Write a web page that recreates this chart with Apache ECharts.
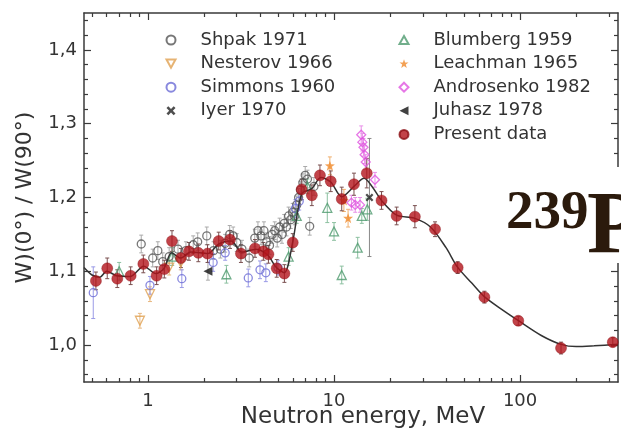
<!DOCTYPE html>
<html><head><meta charset="utf-8">
<script src="https://cdn.jsdelivr.net/npm/echarts@6/dist/echarts.min.js"></script>
<style>html,body{margin:0;padding:0;background:#fff}#c{width:621px;height:431px}</style>
</head><body><div id="c"></div>
<script>
// ---- tick labels ----
const xMajorTicks = [1, 10, 100];
const xMinorTicks = [0.5,0.6,0.7,0.8,0.9,2,3,4,5,6,7,8,9,20,30,40,50,60,70,80,90,200,300];
const yMajorTicks = [1.0, 1.1, 1.2, 1.3, 1.4];
const yMinorTicks = [0.96,0.98,1.02,1.04,1.06,1.08,1.12,1.14,1.16,1.18,1.22,1.24,1.26,1.28,1.32,1.34,1.36,1.38,1.42,1.44];
const xMin = 0.453, xMax = 336, yMin = 0.95, yMax = 1.45;

// ---- data ----
const presentE = [0.525,0.604,0.684,0.807,0.944,1.113,1.224,1.346,1.504,1.66,1.865,2.09,2.40,2.76,3.16,3.76,4.17,4.44,4.92,5.41,6.0,6.7,7.6,8.4,9.6,11.0,12.8,15.0,18.0,21.7,27.2,34.9,46.2,64.3,97.8,166,315];
const presentW = [1.087,1.104,1.090,1.094,1.110,1.094,1.103,1.141,1.118,1.127,1.125,1.124,1.141,1.143,1.124,1.131,1.127,1.123,1.104,1.097,1.139,1.211,1.203,1.230,1.222,1.198,1.218,1.233,1.196,1.175,1.174,1.157,1.105,1.065,1.033,0.996,1.004];
const presentErr = [0.012,0.014,0.012,0.012,0.012,0.012,0.012,0.014,0.013,0.012,0.012,0.012,0.012,0.012,0.012,0.012,0.012,0.012,0.012,0.012,0.012,0.014,0.014,0.014,0.014,0.016,0.015,0.02,0.012,0.012,0.015,0.01,0.008,0.008,0.006,0.008,0.006];

const fitE = [0.453,0.5,0.55,0.6,0.68,0.8,0.95,1.1,1.22,1.34,1.5,1.7,2.1,2.4,2.8,3.2,3.8,4.4,4.9,5.4,6.0,6.7,7.6,8.5,9.6,11,12.8,14.5,16,18,21.7,27,33,40,46,55,64,80,98,130,166,200,250,336];
const fitW = [1.105,1.095,1.092,1.100,1.094,1.093,1.107,1.097,1.104,1.125,1.118,1.126,1.124,1.137,1.141,1.126,1.130,1.122,1.105,1.098,1.140,1.205,1.212,1.227,1.221,1.201,1.215,1.226,1.215,1.196,1.176,1.172,1.160,1.132,1.106,1.084,1.066,1.048,1.033,1.013,1.001,0.998,0.999,1.001];

const shpakE = [0.92,1.06,1.13,1.2,1.3,1.45,1.6,1.75,1.85,2.07,2.25,2.45,2.6,2.75,2.87,3.0,3.2,3.5,3.75,3.9,4.05,4.2,4.35,4.5,4.65,4.8,4.95,5.1,5.25,5.4,5.55,5.7,5.85,6.0,6.15,6.3,6.45,6.6,6.8,7.0,7.2,7.4,7.8];
const shpakW = [1.137,1.118,1.128,1.113,1.120,1.130,1.128,1.136,1.140,1.148,1.128,1.130,1.138,1.150,1.148,1.139,1.130,1.118,1.145,1.155,1.148,1.155,1.140,1.135,1.150,1.155,1.145,1.160,1.150,1.165,1.160,1.175,1.170,1.180,1.175,1.190,1.200,1.210,1.220,1.230,1.225,1.161,1.215];
const shpakErr = 0.012;

const nesterovE = [0.905,1.025,1.3,1.5];
const nesterovW = [1.033,1.069,1.105,1.112];
const nesterovErr = 0.01;

const simmonsE = [0.508,1.025,1.52,2.24,2.6,3.46,4.0,4.3,5.0,6.2,6.5];
const simmonsW = [1.071,1.081,1.090,1.112,1.125,1.091,1.102,1.098,1.105,1.185,1.195];
const simmonsErr = [0.035,0.012,0.012,0.012,0.01,0.012,0.012,0.012,0.01,0.012,0.012];

const iyerE = [15.5];
const iyerW = [1.200];
const iyerErr = [0.08];

const blumbergE = [0.7,1.35,2.64,5.7,6.3,7.2,9.2,10.0,11.0,13.4,14.1,15.1];
const blumbergW = [1.100,1.120,1.096,1.120,1.175,1.215,1.186,1.154,1.095,1.132,1.175,1.184];
const blumbergErr = [0.012,0.012,0.012,0.012,0.01,0.01,0.02,0.012,0.012,0.014,0.01,0.015];

const leachmanE = [9.5,11.3,11.9];
const leachmanW = [1.243,1.196,1.172];
const leachmanErr = [0.012,0.015,0.012];

const androE = [12.4,13.0,13.8,14.0,14.2,14.4,14.6,14.8,16.6];
const androW = [1.193,1.190,1.190,1.285,1.275,1.268,1.258,1.248,1.224];
const androErr = [0.01,0.01,0.01,0.012,0.012,0.012,0.012,0.01,0.01];

const juhaszE = [2.1];
const juhaszW = [1.100];
const juhaszErr = [0.012];

const legendLeft = ['Shpak 1971','Nesterov 1966','Simmons 1960','Iyer 1970'];
const legendRight = ['Blumberg 1959','Leachman 1965','Androsenko 1982','Juhasz 1978','Present data'];

// ---- build ----
const FONT = 'DejaVu Sans';
const AXC = '#3a3a3a';
const pts = (E, W) => E.map((e, i) => [e, W[i]]);
const errPts = (E, W, err) => E.map((e, i) => [e, W[i], Array.isArray(err) ? err[i] : err]);

function errSeries(E, W, err, color) {
  return {
    type: 'custom', xAxisIndex: 0, yAxisIndex: 0, silent: true, z: 2,
    encode: {x: 0, y: 1},
    data: errPts(E, W, err),
    renderItem: function (params, api) {
      const x = api.value(0), y = api.value(1), e = api.value(2);
      const p1 = api.coord([x, y - e]), p2 = api.coord([x, y + e]);
      const c = 2;
      const st = {stroke: color, lineWidth: 1};
      return {type: 'group', children: [
        {type: 'line', shape: {x1: p1[0], y1: p1[1], x2: p2[0], y2: p2[1]}, style: st},
        {type: 'line', shape: {x1: p1[0]-c, y1: p1[1], x2: p1[0]+c, y2: p1[1]}, style: st},
        {type: 'line', shape: {x1: p2[0]-c, y1: p2[1], x2: p2[0]+c, y2: p2[1]}, style: st}
      ]};
    }
  };
}
function scat(name, E, W, symbol, size, style, z) {
  return {type: 'scatter', name: name, xAxisIndex: 0, yAxisIndex: 0, data: pts(E, W),
    symbol: symbol, symbolSize: size, itemStyle: style, z: z || 3};
}
const OPEN = 'rgba(255,255,255,0)';
const downTri = 'path://M0,0L10,0L5,9Z';
const upTri = 'path://M5,0L10,9L0,9Z';
const leftTri = 'path://M10,0L10,10L0,5Z';
const xMark = 'path://M2,0L5,3L8,0L10,2L7,5L10,8L8,10L5,7L2,10L0,8L3,5L0,2Z';
const star = 'path://M5,0L6.2,3.4L10,3.5L7,5.8L8.1,9.5L5,7.3L1.9,9.5L3,5.8L0,3.5L3.8,3.4Z';
const diamond = 'path://M5,0L10,5L5,10L0,5Z';

const lg = Math.log10;
const gridRect = {left: 84, right: 3, top: 13, bottom: 49, containLabel: false, outerBoundsMode: 'none'};
const grids = [0,1,2,3,4].map(() => Object.assign({}, gridRect));

function decoX(gi, pos, vals, len, showLabel, showLine, extra) {
  return Object.assign({
    type: 'value', gridIndex: gi, position: pos, min: lg(xMin), max: lg(xMax),
    splitLine: {show: false},
    axisLine: {show: showLine, onZero: false, lineStyle: {color: AXC, width: 1.5}},
    axisTick: {show: true, inside: true, length: len, customValues: vals.map(lg), lineStyle: {color: AXC, width: 1.2}},
    axisLabel: showLabel ? {show: true, customValues: vals.map(lg), margin: 10, color: '#333', fontFamily: FONT, fontSize: 18,
      formatter: v => String(Math.round(Math.pow(10, v)))} : {show: false}
  }, extra || {});
}
function decoY(gi, pos, vals, len, showLabel, showLine, extra) {
  return Object.assign({
    type: 'value', gridIndex: gi, position: pos, min: yMin, max: yMax,
    splitLine: {show: false},
    axisLine: {show: showLine, onZero: false, lineStyle: {color: AXC, width: 1.5}},
    axisTick: {show: true, inside: true, length: len, customValues: vals, lineStyle: {color: AXC, width: 1.2}},
    axisLabel: showLabel ? {show: true, customValues: vals, margin: 7, color: '#333', fontFamily: FONT, fontSize: 18,
      formatter: v => v.toFixed(1).replace('.', ',')} : {show: false}
  }, extra || {});
}
const legendBase = {orient: 'vertical', top: 31, padding: 0, itemWidth: 9, itemHeight: 9, itemGap: 5.6,
  symbolKeepAspect: true, selectedMode: false,
  textStyle: {fontFamily: FONT, fontSize: 18, color: '#333', lineHeight: 18, padding: [0, 0, 0, 20]}};

const option = {
  animation: false,
  backgroundColor: '#fff',
  grid: grids,
  xAxis: [
    {type: 'log', logBase: 10, gridIndex: 0, min: xMin, max: xMax, show: false},
    decoX(1, 'bottom', xMajorTicks, 7, true, true, {
      name: 'Neutron energy, MeV', nameLocation: 'middle', nameGap: 24, nameMoveOverlap: false,
      nameTextStyle: {fontFamily: FONT, fontSize: 23, color: '#333', padding: [0, 0, 0, 24]}}),
    decoX(2, 'top', xMajorTicks, 7, false, true),
    decoX(3, 'bottom', xMinorTicks, 4, false, false),
    decoX(4, 'top', xMinorTicks, 4, false, false)
  ],
  yAxis: [
    {type: 'value', gridIndex: 0, min: yMin, max: yMax, show: false},
    decoY(1, 'left', yMajorTicks, 7, true, true, {
      name: 'W)(0°) / W(90°)', nameLocation: 'middle', nameGap: 48, nameRotate: 90, nameMoveOverlap: false,
      nameTextStyle: {fontFamily: FONT, fontSize: 22, color: '#333'}}),
    decoY(2, 'right', yMajorTicks, 7, false, true),
    decoY(3, 'left', yMinorTicks, 4, false, false),
    decoY(4, 'right', yMinorTicks, 4, false, false)
  ],
  legend: [
    Object.assign({data: legendLeft, left: 165.5}, legendBase),
    Object.assign({data: legendRight, left: 398.5}, legendBase)
  ],
  series: [
    errSeries(shpakE, shpakW, shpakErr, '#aaaaaa'),
    errSeries(nesterovE, nesterovW, nesterovErr, '#e8b880'),
    errSeries(simmonsE, simmonsW, simmonsErr, '#9a9ae6'),
    errSeries(blumbergE, blumbergW, blumbergErr, '#8cc0a0'),
    errSeries(leachmanE, leachmanW, leachmanErr, '#f0b070'),
    errSeries(androE, androW, androErr, '#e890e8'),
    errSeries(iyerE, iyerW, iyerErr, '#888888'),
    errSeries(juhaszE, juhaszW, juhaszErr, '#aaaaaa'),
    scat('Shpak 1971', shpakE, shpakW, 'circle', 8, {color: OPEN, borderColor: '#555', borderWidth: 1.3}),
    scat('Nesterov 1966', nesterovE, nesterovW, downTri, 9, {color: OPEN, borderColor: '#e0a050', borderWidth: 1.3}),
    scat('Simmons 1960', simmonsE, simmonsW, 'circle', 8, {color: OPEN, borderColor: '#6b6bd6', borderWidth: 1.3}),
    scat('Blumberg 1959', blumbergE, blumbergW, upTri, 9, {color: OPEN, borderColor: '#4e9a6e', borderWidth: 1.3}),
    scat('Leachman 1965', leachmanE, leachmanW, star, 10, {color: '#f08a2a'}),
    scat('Androsenko 1982', androE, androW, diamond, 9, {color: OPEN, borderColor: '#e055e0', borderWidth: 1.3}),
    scat('Iyer 1970', iyerE, iyerW, xMark, 8, {color: '#222'}, 5),
    scat('Juhasz 1978', juhaszE, juhaszW, leftTri, 9, {color: '#111'}, 5),
    {type: 'line', xAxisIndex: 0, yAxisIndex: 0, data: pts(fitE, fitW), smooth: 0.3, showSymbol: false,
     lineStyle: {color: '#333', width: 1.5}, z: 4, silent: true},
    errSeries(presentE, presentW, presentErr, '#7a5050'),
    scat('Present data', presentE, presentW, 'circle', 11, {color: '#b3141c', borderColor: '#8a0c12', borderWidth: 0.5}, 6)
  ],
  graphic: [
    {type: 'rect', left: 490, top: 167, shape: {width: 131, height: 96}, style: {fill: '#fff'}, z: 100},
    {type: 'text', left: 506, top: 186, style: {text: '239', font: 'bold 55px "Liberation Serif"', fill: '#2b1a0c'}, z: 101},
    {type: 'text', left: 587, top: 185, style: {text: 'P', font: 'bold 88px "Liberation Serif"', fill: '#2b1a0c'}, z: 101}
  ]
};
const chart = echarts.init(document.getElementById('c'), null, {renderer: 'canvas'});
chart.setOption(option);
</script></body></html>
